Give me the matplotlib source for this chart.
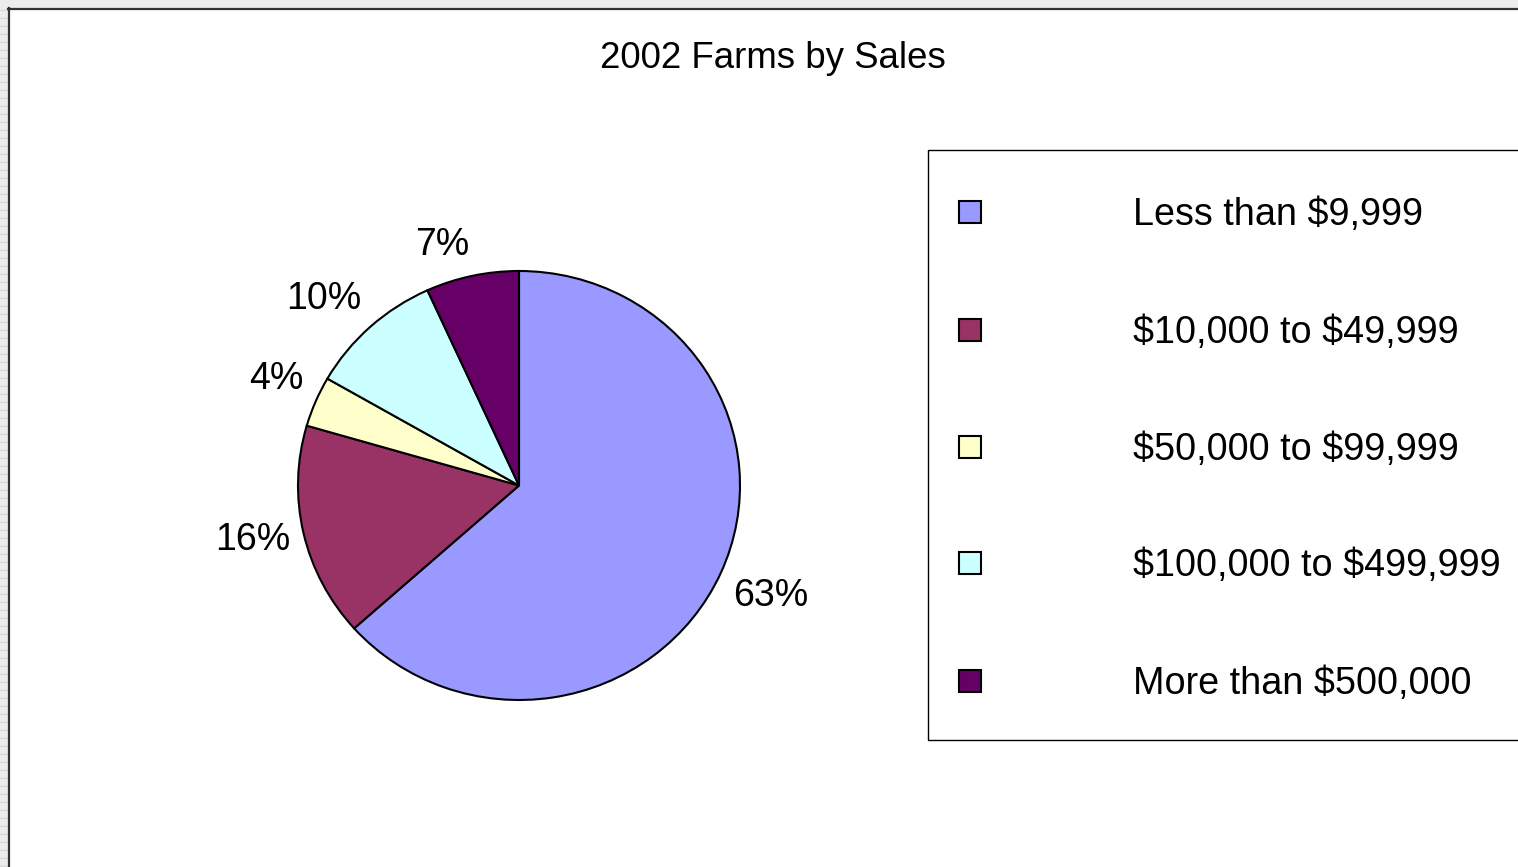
import matplotlib
matplotlib.use("Agg")
import numpy as np
import matplotlib.pyplot as plt
from matplotlib.patches import Rectangle
from matplotlib.lines import Line2D

plt.rcParams['font.family'] = ['Liberation Sans', 'DejaVu Sans']
plt.rcParams['text.parse_math'] = False

title = "2002 Farms by Sales"
categories = ["Less than $9,999", "$10,000 to $49,999", "$50,000 to $99,999",
              "$100,000 to $499,999", "More than $500,000"]
shares = [63.4, 16.1, 3.8, 9.9, 6.8]
colors = ["#9999FF", "#993366", "#FFFFCC", "#CCFFFF", "#660066"]

W, H = 1518, 867
fig = plt.figure(figsize=(W / 100, H / 100), dpi=100)
fig.patch.set_facecolor("white")

def fx(x):
    return x / W

def fy(y):
    return 1 - y / H

# outer grey margin (striped) and frame
fig.patches.append(Rectangle((0, fy(8)), 1, 8 / H, transform=fig.transFigure,
                             facecolor="#ececec", edgecolor="none", zorder=0))
fig.patches.append(Rectangle((0, 0), fx(8), 1, transform=fig.transFigure,
                             facecolor="#ececec", edgecolor="none", zorder=0))
for yy in range(10, H, 8):
    fig.lines.append(Line2D([0, fx(7)], [fy(yy), fy(yy)], transform=fig.transFigure,
                            color="#d8d8d8", lw=1.0, zorder=1))
fig.lines.append(Line2D([fx(9), fx(9)], [0, fy(8)], transform=fig.transFigure,
                        color="#333333", lw=1.6, zorder=2))
fig.lines.append(Line2D([fx(8), 1], [fy(9), fy(9)], transform=fig.transFigure,
                        color="#333333", lw=1.6, zorder=2))

fig.text(fx(773), fy(59), title, ha="center", va="center", fontsize=26.4)

# pie axes (slightly elliptical as in reference)
left, right, top, bottom = 298, 740, 271, 700
ax = fig.add_axes([fx(left), fy(bottom), (right - left) / W, (bottom - top) / H])
wedges, texts = ax.pie(
    shares, colors=colors, startangle=90, counterclock=False, radius=1.0,
    wedgeprops=dict(edgecolor="black", linewidth=1.5))
ax.set_aspect("auto")
ax.set_xlim(-1, 1)
ax.set_ylim(-1, 1)

# Excel-style outside percentage labels
for w, s in zip(wedges, shares):
    th = np.deg2rad((w.theta1 + w.theta2) / 2)
    c, sn = np.cos(th), np.sin(th)
    r = 1.06
    ha = "left" if c > 0.1 else ("right" if c < -0.1 else "center")
    va = "bottom" if sn > 0.3 else ("top" if sn < -0.3 else "center_baseline")
    ax.text(r * c, r * sn, f"{s:.0f}%", ha=ha, va=va, fontsize=27, clip_on=False)

# legend box
lx0, ly0 = 928, 150
fig.patches.append(Rectangle((fx(lx0), fy(740)), 1 - fx(lx0) + 0.01, (740 - ly0) / H,
                             transform=fig.transFigure, facecolor="white",
                             edgecolor="black", lw=1.0, zorder=3))
ys = [212, 330, 447, 563, 681]
for cat, col, yy in zip(categories, colors, ys):
    fig.patches.append(Rectangle((fx(959), fy(yy + 11)), 22 / W, 22 / H,
                                 transform=fig.transFigure, facecolor=col,
                                 edgecolor="black", lw=1.5, zorder=4))
    fig.text(fx(1133), fy(yy + 3), cat, ha="left", va="center", fontsize=27.2, zorder=5)

fig.savefig("out.png", dpi=100)
